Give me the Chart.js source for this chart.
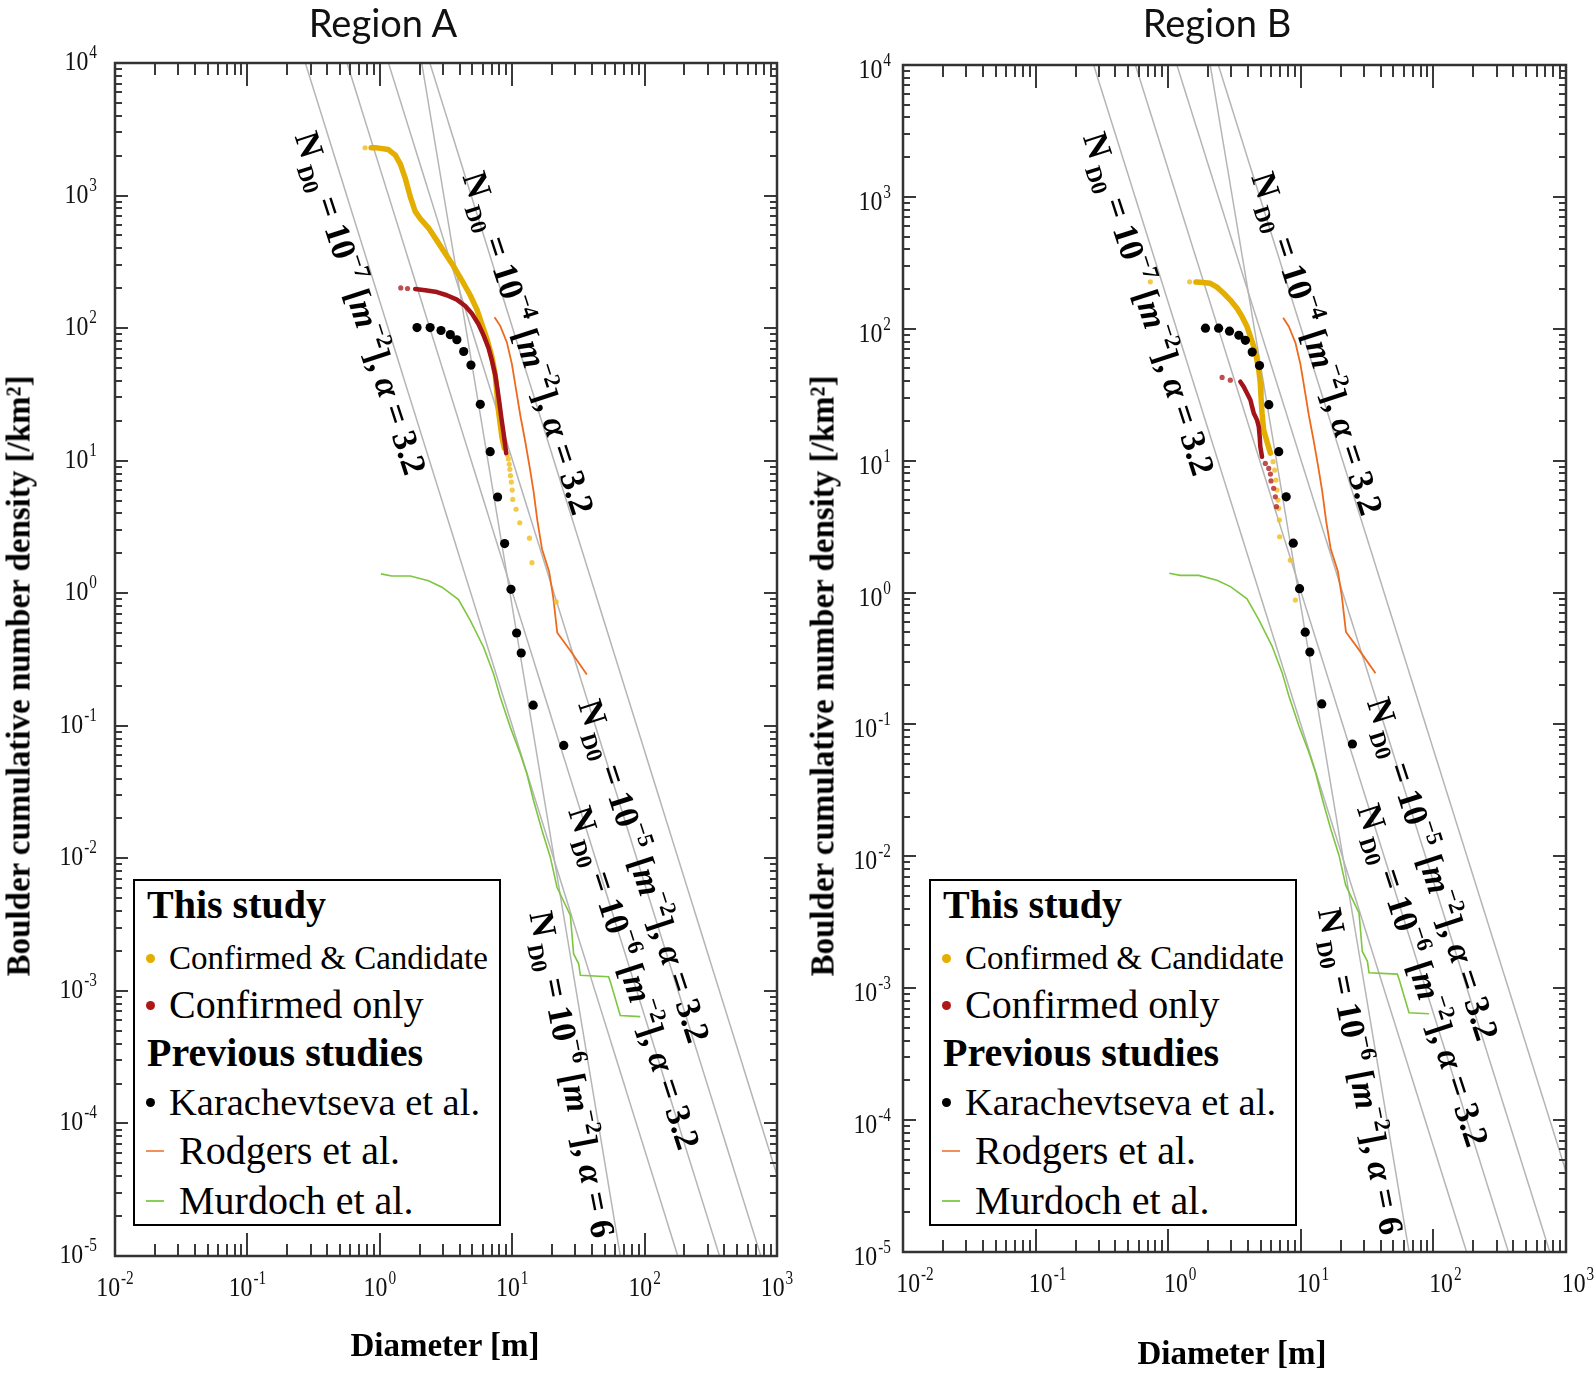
<!DOCTYPE html>
<html lang="en">
<head>
<meta charset="UTF-8">
<title>Boulder cumulative number density - Region A / Region B</title>
<script src="https://cdn.jsdelivr.net/npm/chart.js"></script>
<style>
  body { margin: 0; background: #fff; }
  #page { position: relative; width: 1594px; height: 1374px; overflow: hidden; }
  canvas { position: absolute; top: 0; }
  .title { position: absolute; font-family: Lato, 'Open Sans', sans-serif; font-size: 38px; color: #111;
           transform: translate(-50%, -50%); white-space: nowrap; }
  .axt { position: absolute; font-family: 'Liberation Serif', 'Times New Roman', serif; font-weight: bold;
         font-size: 33px; white-space: nowrap; transform: translate(-50%, -50%); }
  .ytitle { transform: translate(-50%, -50%) rotate(-90deg); }
  .legend { position: absolute; width: 364px; height: 343px; border: 2.5px solid #000; background: #fff;
            font-family: 'Liberation Serif', 'Times New Roman', serif; }
  .legend span { position: absolute; white-space: nowrap; line-height: 1; }
  .legend i { position: absolute; display: block; }
</style>
</head>
<body>
<div id="page">
  <canvas id="chartA" width="797" height="1374" style="left:0"></canvas>
  <canvas id="chartB" width="797" height="1374" style="left:797px"></canvas>

  <div class="title" style="left:383px; top:22px">Region A</div>
  <div class="title" style="left:1217px; top:22px">Region B</div>

  <div class="axt ytitle" style="left:19px; top:676px">Boulder cumulative number density [/km²]</div>
  <div class="axt ytitle" style="left:823px; top:676px">Boulder cumulative number density [/km²]</div>
  <div class="axt" style="left:445px; top:1345px">Diameter [m]</div>
  <div class="axt" style="left:1232px; top:1353px">Diameter [m]</div>

  <div class="legend" id="legA" style="left:133px; top:879px"></div>
  <div class="legend" id="legB" style="left:929px; top:879px"></div>
</div>

<script>
// ---- data (diameter in m, cumulative density in /km2) ----

// previous studies, same in both panels
const karachevtsevaD = [1.91, 2.40, 2.90, 3.41, 3.82, 4.30, 4.88, 5.74, 6.82, 7.76, 8.77, 9.79, 10.8, 11.7, 14.4, 24.5];
const karachevtsevaN = [101, 101, 95.9, 89.3, 81.7, 66.6, 52.6, 26.6, 11.7, 5.32, 2.37, 1.07, 0.501, 0.354, 0.143, 0.0711];

const rodgersD = [7.36, 8.12, 9.12, 9.95, 10.7, 11.5, 12.5, 13.5, 14.5, 15.5, 16.8, 19.0, 20.4, 21.9, 27.6, 36.6];
const rodgersN = [121, 104, 78.0, 53.5, 34.4, 22.1, 14.2, 9.14, 5.87, 3.52, 2.15, 1.46, 0.936, 0.503, 0.366, 0.244];

const murdochD = [1.02, 1.23, 1.70, 2.33, 2.95, 3.93, 4.82, 6.07, 7.23, 8.12, 9.67, 11.5, 12.9, 14.5, 16.8,
                  19.4, 21.8, 27.5, 29.1, 31.8, 32.7, 53.5, 55.7, 65.5, 92.7];
const murdochN = [1.40, 1.35, 1.35, 1.24, 1.11, 0.895, 0.624, 0.393, 0.247, 0.165, 0.0977, 0.0615, 0.0434, 0.0273, 0.0162,
                  0.0102, 0.00605, 0.00371, 0.00190, 0.00160, 0.00131, 0.00128, 0.00113, 0.000651, 0.000640];

// this study, Region A
const candA_D = [0.86, 0.951, 1.16, 1.31, 1.43, 1.56, 1.70, 1.85, 2.02, 2.33, 2.70, 3.12, 3.60, 4.18, 4.82,
                 5.42, 5.90, 6.44, 7.03, 7.45, 7.67, 7.89, 8.36, 8.71];
const candA_N = [2290, 2290, 2222, 2018, 1726, 1340, 977, 759, 670, 571, 457, 366, 294, 228, 177,
                 138, 107, 83.0, 60.5, 44.2, 32.1, 23.4, 15.1, 12.5];
const candTailA_D = [0.774, 9.2, 9.35, 9.5, 9.6, 9.7, 9.85, 10.0, 10.1, 10.7, 11.4, 13.5, 14.1, 21.5];
const candTailA_N = [2294, 11.1, 10.3, 9.4, 8.6, 7.7, 6.9, 6.0, 5.1, 4.3, 3.4, 2.6, 1.7, 0.86];
const confA_D = [1.85, 2.20, 2.70, 3.21, 3.82, 4.42, 4.96, 5.57, 6.07, 6.62, 7.03, 7.45, 7.75, 8.03, 8.30, 8.61, 9.01];
const confA_N = [197, 193, 187, 177, 164, 147, 129, 107, 88.5, 70.9, 56.8, 44.2, 34.3, 26.6, 20.7, 16.1, 11.4];
const confTailA_D = [1.44, 1.62];
const confTailA_N = [201, 199];

// this study, Region B
const candB_D = [1.62, 1.75, 2.08, 2.33, 2.62, 2.94, 3.30, 3.60, 3.93, 4.17, 4.42, 4.62, 4.82, 4.95,
                 5.01, 5.10, 5.25, 5.56, 5.90];
const candB_N = [226, 225, 221, 207, 186, 165, 143, 124, 104, 87.1, 73.1, 61.4, 48.7, 38.6,
                 30.6, 22.9, 17.1, 13.9, 11.4];
const candTailB_D = [0.733, 1.45, 6.18, 6.35, 6.50, 6.62, 6.73, 6.81, 6.89, 6.92, 8.34, 9.10];
const candTailB_N = [227, 227, 9.83, 8.49, 7.13, 5.99, 5.03, 4.35, 3.55, 2.65, 1.76, 0.877];
const confB_D = [3.50, 3.71, 3.93, 4.17, 4.29, 4.42, 4.68, 4.82, 4.90, 4.95, 5.10];
const confB_N = [39.7, 36.4, 32.4, 28.8, 25.7, 22.9, 20.3, 18.1, 15.2, 12.8, 10.7];
const confTailB_D = [2.55, 2.94, 5.40, 5.73, 5.90, 5.96, 6.24, 6.43, 6.55];
const confTailB_N = [42.8, 40.8, 9.53, 8.73, 7.91, 7.02, 6.17, 5.32, 4.48];

// grey N_D0 reference lines, end points where they meet the frame
const refLineD = [[0.274, 178], [0.566, 368], [1.163, 755], [2.388, 1000], [2.073, 65.6]];
const refLineN = [[1e4, 1e-5], [1e4, 1e-5], [1e4, 1e-5], [1e4, 4.07e-5], [1e4, 1e-5]];

// labels along the grey lines: exponent of N_D0 and alpha
const refLabelExp = ['−7', '−4', '−5', '−6', '−6'];
const refLabelAlpha = ['3.2', '3.2', '3.2', '3.2', '6'];
const refLabelD = [0.723, 13.4, 100.3, 84.1, 28.6];
const refLabelN = [155, 77.5, 0.00805, 0.00126, 0.000235];
const refLabelAngle = [72, 72, 72, 72, 79];

// axis ticks
const xTickExp = ['-2', '-1', '0', '1', '2', '3'];
const yTickExp = ['4', '3', '2', '1', '0', '-1', '-2', '-3', '-4', '-5'];

// ---- drawing ----
const SERIF = "'Liberation Serif', 'Times New Roman', serif";
const YELLOW = '#E3AE00', RED = '#A3141A', ORANGE = '#EE6A1C', GREEN = '#7DC63F', GREY = '#b5b5b5';

function pts(xs, ys) { return xs.map((v, i) => ({ x: v, y: ys[i] })); }

function drawPow(ctx, exp, x, y, align) {
  const sx = 0.85;
  ctx.font = '28px ' + SERIF;
  const wb = ctx.measureText('10').width * sx;
  ctx.font = '18px ' + SERIF;
  const we = ctx.measureText(exp).width * sx;
  const total = wb + 1 + we;
  const x0 = align === 'right' ? x - total : x - total / 2;
  ctx.save();
  ctx.translate(x0, y);
  ctx.scale(sx, 1);
  ctx.textAlign = 'left';
  ctx.textBaseline = 'alphabetic';
  ctx.fillStyle = '#111';
  ctx.font = '28px ' + SERIF;
  ctx.fillText('10', 0, 0);
  ctx.font = '18px ' + SERIF;
  ctx.fillText(exp, (wb + 1) / sx, -12);
  ctx.restore();
}

function drawRefLabel(ctx, cx, cy, angle, exp, alpha) {
  const big = 'bold 35px ' + SERIF, small = 'bold 23px ' + SERIF, ital = 'italic bold 35px ' + SERIF;
  const parts = [
    { t: 'N', f: big, dy: 0 },
    { t: ' D0', f: small, dy: 8 },
    { t: ' = 10', f: big, dy: 0 },
    { t: exp, f: small, dy: -15 },
    { t: ' [', f: big, dy: 0 },
    { t: 'm', f: ital, dy: 0 },
    { t: '−2', f: small, dy: -15 },
    { t: '], ', f: big, dy: 0 },
    { t: 'α', f: ital, dy: 0 },
    { t: ' = ' + alpha, f: big, dy: 0 }
  ];
  ctx.save();
  ctx.translate(cx, cy);
  ctx.rotate(angle * Math.PI / 180);
  ctx.fillStyle = '#000';
  ctx.textAlign = 'left';
  ctx.textBaseline = 'alphabetic';
  let total = 0;
  parts.forEach(p => { ctx.font = p.f; total += ctx.measureText(p.t).width; });
  let x = -total / 2;
  parts.forEach(p => { ctx.font = p.f; ctx.fillText(p.t, x, 12 + p.dy); x += ctx.measureText(p.t).width; });
  ctx.restore();
}

const decor = {
  id: 'decor',
  afterDatasetsDraw(chart, args, opts) {
    const ctx = chart.ctx, a = chart.chartArea, xs = chart.scales.x, ys = chart.scales.y;
    ctx.save();

    // reference line labels
    refLabelD.forEach((d, i) => {
      drawRefLabel(ctx, xs.getPixelForValue(d), ys.getPixelForValue(refLabelN[i]),
                   refLabelAngle[i], refLabelExp[i], refLabelAlpha[i]);
    });

    // inward ticks on all four sides
    ctx.strokeStyle = '#3a3a3a';
    ctx.lineWidth = 2;
    ctx.beginPath();
    for (let e = -2; e <= 3; e++) {
      for (let k = 1; k <= 9; k++) {
        if (e === 3 && k > 1) break;
        const px = Math.round(xs.getPixelForValue(k * Math.pow(10, e)));
        const len = k === 1 ? 23 : 12;
        ctx.moveTo(px, a.bottom); ctx.lineTo(px, a.bottom - len);
        ctx.moveTo(px, a.top); ctx.lineTo(px, a.top + len);
      }
    }
    for (let e = -5; e <= 4; e++) {
      for (let k = 1; k <= 9; k++) {
        if (e === 4 && k > 1) break;
        const py = Math.round(ys.getPixelForValue(k * Math.pow(10, e)));
        const len = k === 1 ? 13 : 7;
        ctx.moveTo(a.left, py); ctx.lineTo(a.left + len, py);
        ctx.moveTo(a.right, py); ctx.lineTo(a.right - len, py);
      }
    }
    ctx.stroke();
    ctx.lineWidth = 2.5;
    ctx.strokeStyle = '#333';
    ctx.strokeRect(a.left, a.top, a.right - a.left, a.bottom - a.top);

    // tick labels
    xTickExp.forEach(ex => {
      const px = xs.getPixelForValue(Math.pow(10, +ex));
      drawPow(ctx, ex, px + opts.xLabelDx, a.bottom + 40, 'center');
    });
    yTickExp.forEach(ex => {
      const py = ys.getPixelForValue(Math.pow(10, +ex));
      drawPow(ctx, ex, a.left - opts.yLabelGap, py + 9 + opts.yLabelDy, 'right');
    });
    ctx.restore();
  }
};

function makeChart(id, study, pad, decorOpts) {
  const datasets = [
    { data: pts(karachevtsevaD, karachevtsevaN), pointRadius: 4.6, backgroundColor: '#000', borderWidth: 0, order: 1 },
    { data: pts(study.confTailD, study.confTailN), pointRadius: 2.6, backgroundColor: 'rgba(175,35,35,0.8)', borderWidth: 0, order: 2 },
    { data: pts(study.confD, study.confN), showLine: true, pointRadius: 0, borderColor: RED, borderWidth: 4.5,
      borderCapStyle: 'round', borderJoinStyle: 'round', order: 3 },
    { data: pts(study.candTailD, study.candTailN), pointRadius: 2.6, backgroundColor: 'rgba(242,192,40,0.85)', borderWidth: 0, order: 4 },
    { data: pts(study.candD, study.candN), showLine: true, pointRadius: 0, borderColor: YELLOW, borderWidth: 5.5,
      borderCapStyle: 'round', borderJoinStyle: 'round', order: 5 },
    { data: pts(rodgersD, rodgersN), showLine: true, pointRadius: 0, borderColor: ORANGE, borderWidth: 1.8, order: 6 },
    { data: pts(murdochD, murdochN), showLine: true, pointRadius: 0, borderColor: GREEN, borderWidth: 1.6, order: 7 }
  ];
  refLineD.forEach((d, i) => {
    datasets.push({ data: pts(d, refLineN[i]), showLine: true, pointRadius: 0, borderColor: GREY, borderWidth: 1.5, order: 8 });
  });

  return new Chart(document.getElementById(id), {
    type: 'scatter',
    data: { datasets },
    options: {
      responsive: false,
      animation: false,
      devicePixelRatio: 1,
      layout: { padding: pad },
      scales: {
        x: { type: 'logarithmic', min: 0.01, max: 1000, display: false },
        y: { type: 'logarithmic', min: 1e-5, max: 1e4, display: false }
      },
      plugins: { legend: { display: false }, tooltip: { enabled: false }, decor: decorOpts }
    },
    plugins: [decor]
  });
}

makeChart('chartA',
  { candD: candA_D, candN: candA_N, candTailD: candTailA_D, candTailN: candTailA_N,
    confD: confA_D, confN: confA_N, confTailD: confTailA_D, confTailN: confTailA_N },
  { left: 115, right: 20, top: 63, bottom: 118 },
  { xLabelDx: 0, yLabelGap: 18, yLabelDy: -2 });

makeChart('chartB',
  { candD: candB_D, candN: candB_N, candTailD: candTailB_D, candTailN: candTailB_N,
    confD: confB_D, confN: confB_N, confTailD: confTailB_D, confTailN: confTailB_N },
  { left: 106, right: 28, top: 65, bottom: 122 },
  { xLabelDx: 12, yLabelGap: 12, yLabelDy: 4 });

// ---- legends ----
const legendItems = [
  { text: 'This study', bold: true, size: 40, left: 12, cy: 24 },
  { text: 'Confirmed & Candidate', size: 33, left: 34, cy: 77, dot: YELLOW },
  { text: 'Confirmed only', size: 40, left: 34, cy: 124, dot: '#B01818' },
  { text: 'Previous studies', bold: true, size: 40, left: 12, cy: 172 },
  { text: 'Karachevtseva et al.', size: 38.5, left: 34, cy: 221, dot: '#000' },
  { text: 'Rodgers et al.', size: 40, left: 44, cy: 270, dash: '#F2905A' },
  { text: 'Murdoch et al.', size: 40, left: 44, cy: 320, dash: '#8ACF55' }
];

['legA', 'legB'].forEach(id => {
  const box = document.getElementById(id);
  legendItems.forEach(it => {
    const s = document.createElement('span');
    s.textContent = it.text;
    s.style.left = it.left + 'px';
    s.style.top = (it.cy - it.size * 0.5) + 'px';
    s.style.fontSize = it.size + 'px';
    if (it.bold) s.style.fontWeight = 'bold';
    box.appendChild(s);
    if (it.dot) {
      const m = document.createElement('i');
      Object.assign(m.style, { left: '11px', top: (it.cy - 4.5) + 'px', width: '9px', height: '9px',
                               borderRadius: '50%', background: it.dot });
      box.appendChild(m);
    }
    if (it.dash) {
      const m = document.createElement('i');
      Object.assign(m.style, { left: '11px', top: (it.cy - 1) + 'px', width: '18px', height: '2px', background: it.dash });
      box.appendChild(m);
    }
  });
});
</script>
</body>
</html>
